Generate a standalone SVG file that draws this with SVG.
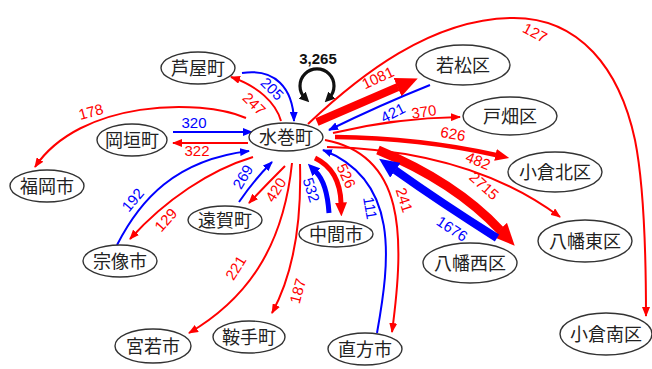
<svg xmlns="http://www.w3.org/2000/svg" width="652" height="369" viewBox="0 0 652 369">
<style>
.n ellipse{fill:#fff;stroke:#333;stroke-width:1.4}
.n text{font-family:"Noto Sans CJK JP","Noto Sans CJK SC",sans-serif;font-size:18px;fill:#222;text-anchor:middle}
.r{fill:none;stroke:#f00;stroke-width:2}
.b{fill:none;stroke:#00f;stroke-width:2}
.lr,.lb,.lk{font-family:"Liberation Sans",Arial,sans-serif;font-size:15px;text-anchor:middle}
.lr{fill:#f00}.lb{fill:#00f}.lk{fill:#111;font-weight:bold}
</style>
<defs>
<marker id="hr" viewBox="0 0 10 8" refX="9" refY="4" markerWidth="10" markerHeight="8" markerUnits="userSpaceOnUse" orient="auto"><path d="M0,0 L10,4 L0,8 z" fill="#f00"/></marker>
<marker id="hb" viewBox="0 0 10 8" refX="9" refY="4" markerWidth="10" markerHeight="8" markerUnits="userSpaceOnUse" orient="auto"><path d="M0,0 L10,4 L0,8 z" fill="#00f"/></marker>
<marker id="hk" viewBox="0 0 10 10" refX="4" refY="5" markerWidth="10" markerHeight="10" markerUnits="userSpaceOnUse" orient="auto-start-reverse"><path d="M0,0 L10,5 L0,10 z" fill="#111"/></marker>
<marker id="hR" viewBox="0 0 22 20" refX="0.5" refY="10" markerWidth="22" markerHeight="20" markerUnits="userSpaceOnUse" orient="auto"><path d="M0,0 L22,10 L0,20 z" fill="#f00"/></marker>
<marker id="hB" viewBox="0 0 20 18" refX="0.5" refY="9" markerWidth="20" markerHeight="18" markerUnits="userSpaceOnUse" orient="auto"><path d="M0,0 L20,9 L0,18 z" fill="#00f"/></marker>
<marker id="hRm" viewBox="0 0 14 12" refX="0.5" refY="6" markerWidth="14" markerHeight="12" markerUnits="userSpaceOnUse" orient="auto"><path d="M0,0 L14,6 L0,12 z" fill="#f00"/></marker>
<marker id="hBm" viewBox="0 0 12 11" refX="0.5" refY="5.5" markerWidth="12" markerHeight="11" markerUnits="userSpaceOnUse" orient="auto"><path d="M0,0 L12,5.5 L0,11 z" fill="#00f"/></marker>
</defs>
<rect width="652" height="369" fill="#fff"/>
<g id="connectors">
<path d="M305,98 A17,17 0 1 1 329,98" fill="none" stroke="#111" stroke-width="3.2" marker-start="url(#hk)" marker-end="url(#hk)"/>
<text class="lk" x="318" y="64">3,265</text>
<path class="b" d="M242,73 C275,68 293,88 294,121" marker-end="url(#hb)"/>
<path class="r" d="M281,121 C276,103 258,86 231,77" marker-end="url(#hr)"/>
<text class="lb" transform="translate(272,89) rotate(45)" y="5">205</text>
<text class="lr" transform="translate(254,104) rotate(45)" y="5">247</text>
<path class="b" d="M173,132 L252,132" marker-end="url(#hb)"/>
<path class="r" d="M248,143 L173,143" marker-end="url(#hr)"/>
<text class="lb" x="194" y="128">320</text>
<text class="lr" x="197" y="156">322</text>
<path class="r" d="M246,118 C200,98 80,100 35,167" marker-end="url(#hr)"/>
<text class="lr" transform="translate(91,112) rotate(-15)" y="5">178</text>
<path class="b" d="M117,245 C140,200 175,160 249,151" marker-end="url(#hb)"/>
<path class="r" d="M253,157 C210,170 165,200 130,239" marker-end="url(#hr)"/>
<text class="lb" transform="translate(133,200) rotate(-50)" y="5">192</text>
<text class="lr" transform="translate(166,220) rotate(-48)" y="5">129</text>
<path class="b" d="M239,202 Q254,180 272,162" marker-end="url(#hb)"/>
<path class="r" d="M285,166 Q266,185 249,203" marker-end="url(#hr)"/>
<text class="lb" transform="translate(243,177) rotate(-60)" y="5">269</text>
<text class="lr" transform="translate(276,190) rotate(-58)" y="5">420</text>
<path class="r" d="M292,163 C283,250 245,300 189,333" marker-end="url(#hr)"/>
<text class="lr" transform="translate(236,268) rotate(-58)" y="5">221</text>
<path class="r" d="M300,164 C302,235 290,280 272,313" marker-end="url(#hr)"/>
<text class="lr" transform="translate(298,291) rotate(-75)" y="5">187</text>
<path d="M329,213 Q327,183 316,172" fill="none" stroke="#00f" stroke-width="5" marker-end="url(#hBm)"/>
<path d="M315,158 Q340,170 341,203" fill="none" stroke="#f00" stroke-width="5" marker-end="url(#hRm)"/>
<text class="lb" transform="translate(311,190) rotate(72)" y="5">532</text>
<text class="lr" transform="translate(346,176) rotate(65)" y="5">526</text>
<path class="b" d="M377,333 C390,260 400,180 323,150" marker-end="url(#hb)"/>
<path class="r" d="M325,140 C405,155 405,235 392,332" marker-end="url(#hr)"/>
<text class="lb" transform="translate(370,208) rotate(80)" y="5">111</text>
<text class="lr" transform="translate(404,200) rotate(72)" y="5">241</text>
<path d="M317,122 L398,87" fill="none" stroke="#f00" stroke-width="8" marker-end="url(#hR)"/>
<path class="b" d="M430,85 Q380,105 329,130" marker-end="url(#hb)"/>
<text class="lr" transform="translate(378,78) rotate(-25)" y="5">1081</text>
<text class="lb" transform="translate(393,113) rotate(-27)" y="5">421</text>
<path class="r" d="M308,124 C360,75 430,20 510,18 C580,16 620,70 635,140 C645,190 646,260 646,316" marker-end="url(#hr)"/>
<text class="lr" transform="translate(535,33) rotate(28)" y="5">127</text>
<path class="r" d="M333,133 Q395,118 460,117" marker-end="url(#hr)"/>
<text class="lr" transform="translate(424,112) rotate(-8)" y="5">370</text>
<path d="M335,137 Q420,138 496,155" fill="none" stroke="#f00" stroke-width="4.5" marker-end="url(#hRm)"/>
<text class="lr" transform="translate(453,134) rotate(10)" y="5">626</text>
<path class="r" d="M327,147 Q470,150 560,217" marker-end="url(#hr)"/>
<text class="lr" transform="translate(478,161) rotate(22)" y="5">482</text>
<path d="M378,150 Q455,182 500,230" fill="none" stroke="#f00" stroke-width="9" marker-end="url(#hR)"/>
<path d="M497,238 Q440,202 395,170" fill="none" stroke="#00f" stroke-width="8" marker-end="url(#hB)"/>
<text class="lr" transform="translate(484,186) rotate(42)" y="5">2715</text>
<text class="lb" transform="translate(452,229) rotate(33)" y="5">1676</text>
</g>
<g id="n-mizumaki" class="n"><ellipse cx="286" cy="137" rx="37" ry="14"/><text x="286" y="144">水巻町</text></g>
<g id="n-ashiya" class="n"><ellipse cx="198" cy="68" rx="37" ry="16"/><text x="198" y="75">芦屋町</text></g>
<g id="n-okagaki" class="n"><ellipse cx="132" cy="140" rx="35" ry="16"/><text x="132" y="147">岡垣町</text></g>
<g id="n-fukuoka" class="n"><ellipse cx="47" cy="186" rx="37" ry="16"/><text x="47" y="193">福岡市</text></g>
<g id="n-munakata" class="n"><ellipse cx="120" cy="261" rx="37" ry="16"/><text x="120" y="268">宗像市</text></g>
<g id="n-onga" class="n"><ellipse cx="225" cy="220" rx="37" ry="14"/><text x="225" y="227">遠賀町</text></g>
<g id="n-nakama" class="n"><ellipse cx="336" cy="234" rx="37" ry="13"/><text x="336" y="241">中間市</text></g>
<g id="n-miyawaka" class="n"><ellipse cx="153" cy="346" rx="38" ry="17"/><text x="153" y="353">宮若市</text></g>
<g id="n-kurate" class="n"><ellipse cx="249" cy="337" rx="36" ry="16"/><text x="249" y="344">鞍手町</text></g>
<g id="n-nogata" class="n"><ellipse cx="365" cy="349" rx="37" ry="16"/><text x="365" y="356">直方市</text></g>
<g id="n-wakamatsu" class="n"><ellipse cx="463" cy="65" rx="47" ry="20"/><text x="463" y="72">若松区</text></g>
<g id="n-tobata" class="n"><ellipse cx="510" cy="116" rx="47" ry="19"/><text x="510" y="123">戸畑区</text></g>
<g id="n-kokurakita" class="n"><ellipse cx="555" cy="172" rx="47" ry="20"/><text x="555" y="179">小倉北区</text></g>
<g id="n-yahatahigashi" class="n"><ellipse cx="585" cy="241" rx="47" ry="21"/><text x="585" y="248">八幡東区</text></g>
<g id="n-yahatanishi" class="n"><ellipse cx="470" cy="263" rx="47" ry="20"/><text x="470" y="270">八幡西区</text></g>
<g id="n-kokuraminami" class="n"><ellipse cx="606" cy="334" rx="46" ry="21"/><text x="606" y="341">小倉南区</text></g>
</svg>
